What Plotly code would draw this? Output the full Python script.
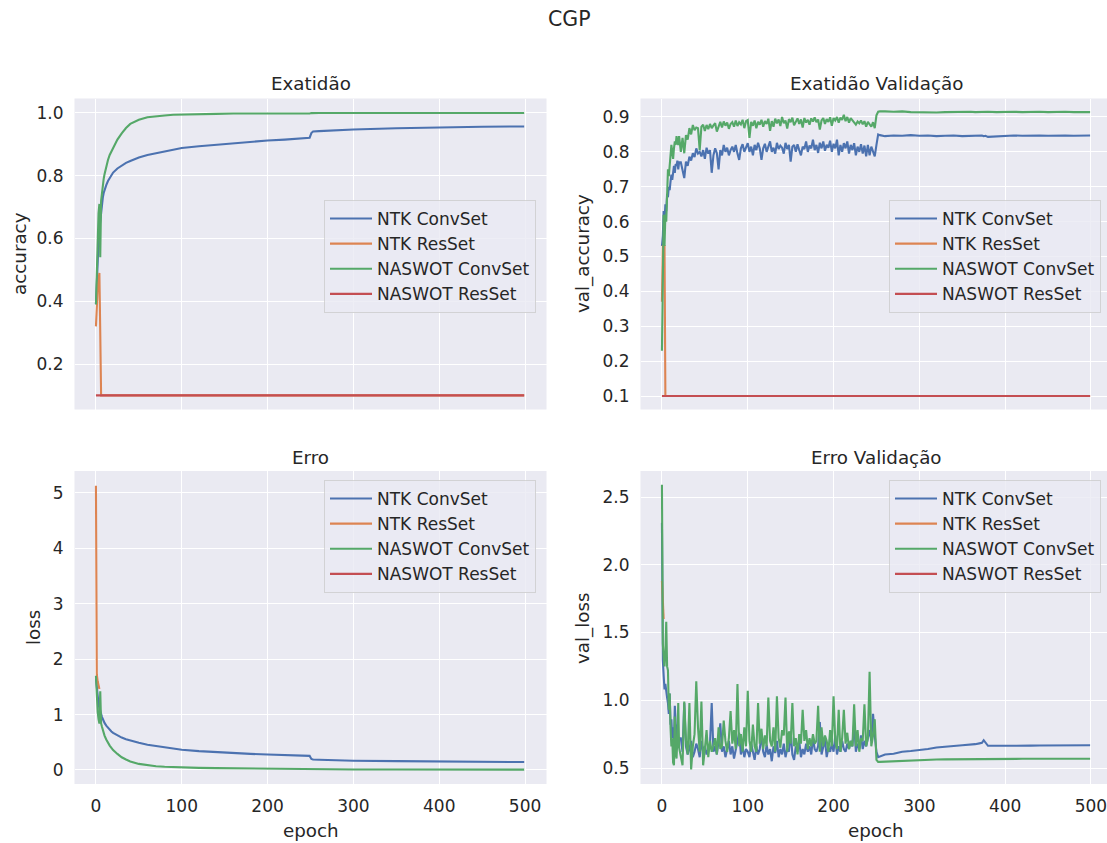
import plotly.graph_objects as go

# ---------------- data ----------------
SERIES = ["NTK ConvSet", "NTK ResSet", "NASWOT ConvSet", "NASWOT ResSet"]
COLORS = ["#4C72B0", "#DD8452", "#55A868", "#C44E52"]

# training epochs grid (smooth curves)
EP_T = [0, 1, 2, 3, 4, 5, 6, 7, 8, 9, 10, 12, 14, 16, 18, 20, 25, 30, 35, 40, 50, 60, 70, 80, 90,
        100, 120, 140, 160, 180, 200, 220, 240, 249, 251, 253, 260, 280, 300, 350, 400, 450, 499]

TA_B = [0.39, 0.47, 0.54, 0.59, 0.63, 0.66, 0.69, 0.715, 0.73, 0.745, 0.755, 0.77, 0.783, 0.793, 0.802,
        0.81, 0.823, 0.833, 0.841, 0.847, 0.858, 0.866, 0.872, 0.877, 0.882, 0.888, 0.894, 0.899, 0.904,
        0.909, 0.912, 0.915, 0.919, 0.921, 0.936, 0.941, 0.942, 0.945, 0.947, 0.951, 0.954, 0.956, 0.957]
TA_G = [0.39, 0.52, 0.62, 0.68, 0.71, 0.54, 0.72, 0.75, 0.77, 0.79, 0.805, 0.83, 0.85, 0.866, 0.878,
        0.89, 0.915, 0.935, 0.952, 0.965, 0.978, 0.986, 0.99, 0.992, 0.994, 0.995, 0.996, 0.997, 0.998,
        0.998, 0.997, 0.998, 0.998, 0.998, 0.9995, 0.9998, 0.9998, 0.9998, 0.9998, 0.9999, 0.9999, 0.9999, 0.9999]
TL_B = [1.65, 1.45, 1.32, 1.2, 1.12, 1.05, 1.0, 0.96, 0.92, 0.88, 0.85, 0.8, 0.76, 0.72, 0.695,
        0.67, 0.62, 0.585, 0.555, 0.53, 0.49, 0.455, 0.43, 0.405, 0.385, 0.365, 0.34, 0.32, 0.305,
        0.29, 0.28, 0.27, 0.26, 0.255, 0.2, 0.19, 0.185, 0.175, 0.168, 0.16, 0.15, 0.146, 0.143]
TL_G = [1.70, 1.3, 1.05, 0.92, 0.84, 1.42, 0.84, 0.78, 0.72, 0.67, 0.62, 0.55, 0.49, 0.44, 0.40,
        0.36, 0.29, 0.23, 0.19, 0.155, 0.11, 0.085, 0.068, 0.058, 0.05, 0.045, 0.038, 0.034, 0.03,
        0.028, 0.026, 0.025, 0.024, 0.022, 0.012, 0.01, 0.01, 0.009, 0.009, 0.008, 0.007, 0.007, 0.006]

EP_TA_O = [0, 1, 2, 3, 4, 5, 6, 499]
TA_O = [0.32, 0.40, 0.44, 0.47, 0.49, 0.30, 0.10, 0.10]
EP_TA_R = [0, 499]
TA_R = [0.10, 0.10]
EP_TL_O = [0, 1, 2, 3, 4]
TL_O = [5.13, 1.72, 1.60, 1.52, 1.46]
EP_TL_R = [0]
TL_R = [None]          # loss is NaN for this run

# validation epochs grid (noisy curves)
EP_V = [0, 1, 2, 3, 4, 5, 6, 7, 8, 9, 10, 11, 12, 13, 14, 15, 16, 17, 18, 19, 20,
        22, 24, 26, 28, 30, 32, 34, 36, 38, 40,
        42, 44, 46, 48, 50, 52, 54, 56, 58, 60,
        62, 64, 66, 68, 70, 72, 74, 76, 78, 80,
        82, 84, 86, 88, 90, 92, 94, 96, 98, 100,
        102, 104, 106, 108, 110, 112, 114, 116, 118, 120,
        122, 124, 126, 128, 130, 132, 134, 136, 138, 140,
        142, 144, 146, 148, 150, 152, 154, 156, 158, 160,
        162, 164, 166, 168, 170, 172, 174, 176, 178, 180,
        182, 184, 186, 188, 190, 192, 194, 196, 198, 200,
        202, 204, 206, 208, 210, 212, 214, 216, 218, 220,
        222, 224, 226, 228, 230, 232, 234, 236, 238, 240,
        242, 244, 246, 248,
        250, 252, 254, 257, 260, 270, 280, 290, 300, 310, 320, 330, 340, 350, 360, 365, 370,
        373, 375, 377, 380, 390, 400, 410, 420, 430, 440, 450, 460, 470, 480, 490, 499]

VA_B = [0.53, 0.56, 0.63, 0.60, 0.65, 0.63, 0.68, 0.67, 0.70, 0.69, 0.715, 0.735, 0.72, 0.745, 0.76,
        0.74, 0.765, 0.76, 0.775, 0.75, 0.77,
        0.77, 0.75, 0.725, 0.772, 0.76, 0.786, 0.775, 0.796, 0.785, 0.81,
        0.795, 0.80, 0.787, 0.805, 0.78, 0.812, 0.795, 0.805, 0.74, 0.79,
        0.81, 0.796, 0.75, 0.805, 0.79, 0.82, 0.80, 0.812, 0.79, 0.805,
        0.815, 0.80, 0.82, 0.795, 0.777, 0.81, 0.822, 0.80, 0.815, 0.825,
        0.80, 0.815, 0.79, 0.82, 0.805, 0.826, 0.81, 0.777, 0.81, 0.823,
        0.80, 0.815, 0.83, 0.80, 0.812, 0.795, 0.826, 0.808, 0.818, 0.812,
        0.795, 0.826, 0.808, 0.82, 0.772, 0.815, 0.82, 0.80, 0.822, 0.805,
        0.79, 0.815, 0.808, 0.83, 0.80, 0.818, 0.81, 0.835, 0.805, 0.82,
        0.797, 0.826, 0.81, 0.83, 0.803, 0.82, 0.812, 0.832, 0.80, 0.823,
        0.81, 0.835, 0.79, 0.82, 0.80, 0.825, 0.81, 0.83, 0.795, 0.82,
        0.805, 0.825, 0.79, 0.815, 0.80, 0.822, 0.795, 0.818, 0.787, 0.82,
        0.79, 0.815, 0.80, 0.787,
        0.82, 0.85, 0.848, 0.846, 0.845, 0.847, 0.846, 0.848, 0.846, 0.847, 0.845, 0.846, 0.847,
        0.845, 0.846, 0.845, 0.846, 0.847, 0.845, 0.846, 0.843, 0.845, 0.846, 0.847, 0.846, 0.847,
        0.847, 0.846, 0.847, 0.847, 0.846, 0.847, 0.847]
VA_G = [0.23, 0.53, 0.62, 0.53, 0.62, 0.60, 0.70, 0.75, 0.73, 0.77, 0.79, 0.82, 0.80, 0.78, 0.81,
        0.83, 0.82, 0.845, 0.83, 0.82, 0.845,
        0.80, 0.84, 0.796, 0.848, 0.835, 0.868, 0.85, 0.877, 0.862, 0.87,
        0.868, 0.805, 0.872, 0.878, 0.86, 0.877, 0.865, 0.88, 0.868, 0.876,
        0.882, 0.858, 0.876, 0.886, 0.87, 0.887, 0.875, 0.884, 0.866, 0.88,
        0.885, 0.872, 0.89, 0.874, 0.885, 0.879, 0.892, 0.868, 0.888, 0.891,
        0.84, 0.886, 0.875, 0.89, 0.868, 0.886, 0.878, 0.892, 0.872, 0.888,
        0.88, 0.895, 0.86, 0.888, 0.872, 0.895, 0.882, 0.893, 0.874, 0.90,
        0.882, 0.89, 0.867, 0.894, 0.885, 0.898, 0.876, 0.889, 0.896, 0.88,
        0.893, 0.87, 0.897, 0.884, 0.892, 0.878, 0.896, 0.887, 0.899, 0.885,
        0.893, 0.864, 0.89, 0.897, 0.88, 0.894, 0.886, 0.899, 0.875, 0.897,
        0.89, 0.90, 0.884, 0.898, 0.892, 0.906, 0.888, 0.90, 0.884, 0.897,
        0.89, 0.883, 0.878, 0.887, 0.882, 0.89, 0.879, 0.888, 0.872, 0.886,
        0.88, 0.872, 0.885, 0.868,
        0.905, 0.915, 0.916, 0.915, 0.916, 0.915, 0.916, 0.914, 0.913, 0.914, 0.913, 0.914, 0.915,
        0.914, 0.915, 0.914, 0.915, 0.915, 0.916, 0.915, 0.915, 0.914, 0.915, 0.915, 0.914, 0.915,
        0.915, 0.914, 0.915, 0.915, 0.914, 0.915, 0.914]
VL_B = [2.31, 1.30, 1.18, 1.08, 1.12, 1.05, 1.02, 0.98, 0.90, 1.05, 0.82, 0.86, 0.72, 0.80, 0.70,
        0.96, 0.74, 0.70, 0.82, 0.66, 0.72,
        0.72, 0.62, 0.98, 0.66, 0.60, 0.64, 0.70, 0.58, 0.62, 0.68,
        0.64, 0.58, 0.70, 0.62, 0.66, 0.60, 0.64, 0.68, 0.98, 0.62,
        0.66, 0.60, 0.70, 0.83, 0.62, 0.66, 0.58, 0.64, 0.70, 0.60,
        0.66, 0.57, 0.64, 0.70, 0.76, 0.60, 0.66, 0.58, 0.64, 0.62,
        0.58, 0.68, 0.62, 0.56, 0.66, 0.60, 0.64, 0.75, 0.62, 0.58,
        0.67, 0.60, 0.64, 0.55, 0.66, 0.61, 0.70, 0.58, 0.64, 0.60,
        0.68, 0.58, 0.64, 0.62, 0.77, 0.60, 0.56, 0.66, 0.62, 0.70,
        0.58, 0.64, 0.60, 0.68, 0.62, 0.66, 0.60, 0.72, 0.64, 0.62,
        0.66, 0.84, 0.60, 0.66, 0.71, 0.58, 0.65, 0.62, 0.68, 0.62,
        0.74, 0.60, 0.66, 0.62, 0.70, 0.64, 0.62, 0.68, 0.64, 0.70,
        0.66, 0.83, 0.62, 0.68, 0.64, 0.74, 0.64, 0.70, 0.66, 0.72,
        0.78, 0.70, 0.90, 0.74,
        0.62, 0.58, 0.585, 0.59, 0.60, 0.605, 0.62, 0.625, 0.632, 0.64, 0.652, 0.66, 0.663,
        0.668, 0.672, 0.676, 0.682, 0.686, 0.705, 0.685, 0.664, 0.664, 0.663, 0.664, 0.665, 0.665,
        0.666, 0.666, 0.667, 0.668, 0.668, 0.669, 0.668]
VL_G = [2.59, 1.42, 1.32, 1.25, 1.35, 1.58, 1.25, 1.22, 0.93, 1.05, 0.80, 0.66, 0.72, 0.54, 0.52,
        0.88, 0.62, 0.57, 0.72, 0.98, 0.65,
        0.58, 0.52, 0.99, 0.70, 0.60, 0.98, 0.49, 0.66, 0.75, 1.14,
        0.80, 0.62, 0.99, 0.52, 0.64, 0.78, 0.58, 0.70, 0.62, 0.66,
        0.72, 0.60, 0.80, 0.64, 0.66, 0.85, 0.70, 0.62, 0.72, 0.92,
        0.68, 0.78, 0.64, 1.12, 0.66, 0.75, 0.62, 0.80, 0.66, 1.07,
        0.70, 0.62, 0.82, 0.66, 0.62, 0.98, 0.68, 0.79, 0.64, 0.74,
        0.66, 1.02, 0.70, 0.66, 0.80, 0.62, 1.03, 0.72, 0.65, 0.78,
        0.74, 1.02, 0.62, 0.77, 0.68, 0.98, 0.66, 0.72, 0.60, 0.75,
        0.68, 0.93, 0.70, 0.78, 0.64, 0.72, 0.66, 0.75, 0.68, 0.70,
        0.96, 0.62, 0.80, 0.66, 0.74, 0.70, 0.62, 0.78, 0.66, 1.03,
        0.70, 0.64, 0.93, 0.62, 0.72, 0.93, 0.68, 0.76, 0.64, 0.70,
        0.66, 0.97, 0.66, 0.78, 0.62, 0.72, 0.70, 0.97, 0.66, 0.72,
        1.21, 0.66, 0.74, 0.86,
        0.56, 0.545, 0.545, 0.546, 0.548, 0.55, 0.555, 0.558, 0.56, 0.562, 0.563, 0.564, 0.565,
        0.566, 0.566, 0.567, 0.567, 0.567, 0.567, 0.567, 0.567, 0.567, 0.568, 0.568, 0.568, 0.568,
        0.568, 0.568, 0.568, 0.568, 0.568, 0.568, 0.568]

EP_VA_O = [0, 1, 2, 3, 4, 499]
VA_O = [0.37, 0.53, 0.53, 0.53, 0.10, 0.10]
EP_VA_R = [0, 499]
VA_R = [0.10, 0.10]
EP_VL_O = [0, 1, 2]
VL_O = [1.88, 1.72, 1.60]
EP_VL_R = [0]
VL_R = [None]          # loss is NaN for this run

TITLES = ["Exatidão", "Exatidão Validação", "Erro", "Erro Validação"]
YLABELS = ["accuracy", "val_accuracy", "loss", "val_loss"]
XLABEL = "epoch"
SUPTITLE = "CGP"
X_TICKS = [0, 100, 200, 300, 400, 500]

# ---------------- layout helpers ----------------
W, H = 1107, 843
FONT = "DejaVu Sans"
TXT = "#262626"
TICK_SIZE = 17
LABEL_SIZE = 18.3


def fx(p):
    return p / W


def fy(p):
    return 1 - p / H


panels = [
    dict(data=[(EP_T, TA_B), (EP_TA_O, TA_O), (EP_T, TA_G), (EP_TA_R, TA_R)],
         xd=[fx(74.5), fx(546.5)], yd=[fy(409.5), fy(98.5)], xr=[-25, 525], yr=[0.055, 1.046],
         yt=[0.2, 0.4, 0.6, 0.8, 1.0], fmt=".1f", xlab=False, legy=200, legx=324),
    dict(data=[(EP_V, VA_B), (EP_VA_O, VA_O), (EP_V, VA_G), (EP_VA_R, VA_R)],
         xd=[fx(640.5), 1.0], yd=[fy(409.5), fy(98.5)], xr=[-25, 518.7], yr=[0.0613, 0.953],
         yt=[0.1, 0.2, 0.3, 0.4, 0.5, 0.6, 0.7, 0.8, 0.9], fmt=".1f", xlab=False, legy=200, legx=889),
    dict(data=[(EP_T, TL_B), (EP_TL_O, TL_O), (EP_T, TL_G), (EP_TL_R, TL_R)],
         xd=[fx(74.5), fx(546.5)], yd=[fy(784), fy(471)], xr=[-25, 525], yr=[-0.253, 5.397],
         yt=[0, 1, 2, 3, 4, 5], fmt="d", xlab=True, legy=480, legx=324),
    dict(data=[(EP_V, VL_B), (EP_VL_O, VL_O), (EP_V, VL_G), (EP_VL_R, VL_R)],
         xd=[fx(640.5), 1.0], yd=[fy(784), fy(471)], xr=[-25, 518.7], yr=[0.382, 2.692],
         yt=[0.5, 1.0, 1.5, 2.0, 2.5], fmt=".1f", xlab=True, legy=480, legx=889),
]

fig = go.Figure()
layout = dict(
    width=W, height=H, margin=dict(l=0, r=0, t=0, b=0),
    paper_bgcolor="white", plot_bgcolor="#EAEAF2",
    font=dict(family=FONT, color=TXT, size=TICK_SIZE),
    annotations=[],
)

for i, p in enumerate(panels):
    n = i + 1
    sfx = "" if n == 1 else str(n)
    leg = "legend" if n == 1 else f"legend{n}"
    for k, (xs, ys) in enumerate(p["data"]):
        fig.add_trace(go.Scatter(
            x=xs, y=ys, mode="lines", name=SERIES[k],
            line=dict(color=COLORS[k], width=2.1),
            xaxis="x" + sfx, yaxis="y" + sfx, legend=leg, showlegend=True,
        ))
    layout["xaxis" + sfx] = dict(
        domain=p["xd"], range=p["xr"], anchor="y" + sfx, tickvals=X_TICKS,
        showticklabels=p["xlab"], showgrid=True, gridcolor="white", gridwidth=1.4,
        zeroline=False, showline=False, ticks="", ticklabelstandoff=10,
        ticklabeloverflow="allow", tickfont=dict(size=TICK_SIZE, color=TXT),
    )
    layout["yaxis" + sfx] = dict(
        domain=p["yd"], range=p["yr"], anchor="x" + sfx, tickvals=p["yt"], tickformat=p["fmt"],
        showgrid=True, gridcolor="white", gridwidth=1.4, zeroline=False, showline=False,
        ticks="", ticklabelstandoff=10, tickfont=dict(size=TICK_SIZE, color=TXT),
    )
    layout[leg] = dict(
        x=fx(p["legx"]), y=fy(p["legy"]), xanchor="left", yanchor="top",
        bgcolor="rgba(234,234,242,0.8)", bordercolor="rgba(204,204,204,0.8)", borderwidth=1,
        itemwidth=42, font=dict(size=TICK_SIZE, color=TXT, family=FONT),
    )

ann = layout["annotations"]


def add_text(text, x, y, size, angle=0):
    ann.append(dict(text=text, x=fx(x), y=fy(y), xref="paper", yref="paper", showarrow=False,
                    xanchor="center", yanchor="middle", textangle=angle,
                    font=dict(family=FONT, size=size, color=TXT)))


add_text(SUPTITLE, 569, 19, 20.5)
add_text(TITLES[0], 310.5, 83, LABEL_SIZE)
add_text(TITLES[1], 876, 83, LABEL_SIZE)
add_text(TITLES[2], 310.5, 457, LABEL_SIZE)
add_text(TITLES[3], 876, 457, LABEL_SIZE)
add_text(YLABELS[0], 20, 254, LABEL_SIZE, -90)
add_text(YLABELS[1], 583, 254, LABEL_SIZE, -90)
add_text(YLABELS[2], 33, 628, LABEL_SIZE, -90)
add_text(YLABELS[3], 583, 628, LABEL_SIZE, -90)
add_text(XLABEL, 310.5, 830, LABEL_SIZE)
add_text(XLABEL, 876, 830, LABEL_SIZE)

fig.update_layout(**layout)
fig.write_html("out.html")
